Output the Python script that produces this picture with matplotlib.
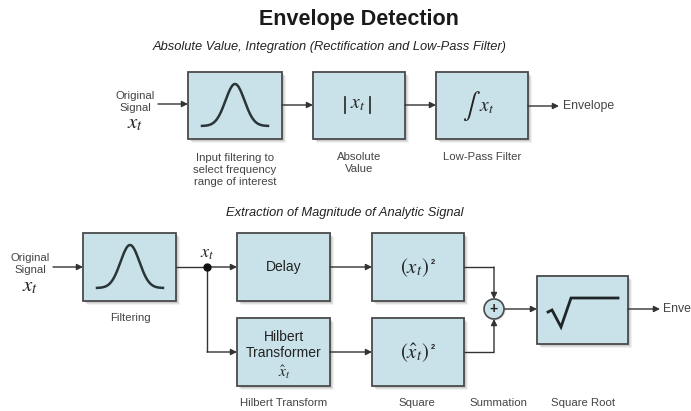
import matplotlib
matplotlib.use('Agg')
import matplotlib.pyplot as plt
from matplotlib.patches import Rectangle, Circle
import numpy as np

# ---- text content ----
title = "Envelope Detection"
subtitle_top = "Absolute Value, Integration (Rectification and Low-Pass Filter)"
subtitle_bottom = "Extraction of Magnitude of Analytic Signal"
input_label = "Original\nSignal"
signal_sym = r'$x_t$'
hat_sym = r'$\hat{x}_t$'
top_captions = ["Input filtering to\nselect frequency\nrange of interest", "Absolute\nValue", "Low-Pass Filter"]
output_label = "Envelope"
bottom_box_text = ["Delay", "Hilbert\nTransformer"]
square_text = [r'$(x_t)$', r'$(\hat{x}_t)$']
bottom_captions = ["Filtering", "Hilbert Transform", "Square", "Summation", "Square Root"]

# ---- style ----
FILL = '#c9e2ea'
EDGE = '#4a4a4a'
LINE = '#333333'
TXT = '#444444'
FONT = 'Liberation Sans'
plt.rcParams['font.family'] = [FONT, 'DejaVu Sans']

fig = plt.figure(figsize=(6.91, 4.11), dpi=100)
ax = fig.add_axes([0, 0, 1, 1])
ax.set_xlim(0, 691)
ax.set_ylim(411, 0)
ax.axis('off')


def box(x0, y0, x1, y1):
    w, h = x1 - x0, y1 - y0
    for off, a in [(4, 0.05), (3, 0.07), (2, 0.09)]:
        ax.add_patch(Rectangle((x0 + off, y0 + off), w, h, facecolor='k',
                               edgecolor='none', alpha=a, zorder=1))
    ax.add_patch(Rectangle((x0, y0), w, h, facecolor=FILL, edgecolor=EDGE,
                           lw=1.3, zorder=2))


def arrow(x0, y0, x1, y1):
    ax.annotate('', xy=(x1, y1), xytext=(x0, y0),
                arrowprops=dict(arrowstyle='-|>', color=LINE, lw=1.0,
                                mutation_scale=9, shrinkA=0, shrinkB=0),
                zorder=3)


def line(xs, ys):
    ax.plot(xs, ys, color=LINE, lw=1.0, zorder=3, solid_capstyle='butt')


def gauss(x0, x1, ytop, ybot, sigma):
    xs = np.linspace(x0, x1, 200)
    cx = (x0 + x1) / 2
    ys = ybot - (ybot - ytop) * np.exp(-0.5 * ((xs - cx) / sigma) ** 2)
    ax.plot(xs, ys, color='#2a3538', lw=1.8, zorder=4)


def math(x, y, s, size, ha='center'):
    ax.text(x, y, s, ha=ha, va='center', fontsize=size,
            math_fontfamily='stix', color='#222222', zorder=5)


# ---- titles ----
ax.text(359, 20, title, ha='center', va='center', fontsize=15.5,
        fontweight='bold', color='#1a1a1a')
ax.text(330, 47, subtitle_top, ha='center', va='center', fontsize=9.3,
        style='italic', color='#222222')
ax.text(345, 213, subtitle_bottom, ha='center', va='center', fontsize=9.3,
        style='italic', color='#222222')

# ---- top row ----
ax.text(135, 102, input_label, ha='center', va='center', fontsize=8.2,
        color=TXT, linespacing=1.2)
math(135, 123, signal_sym, 15)
box(188, 72, 282, 139)
box(313, 72, 405, 139)
box(436, 72, 528, 139)
arrow(158, 104, 188, 104)
arrow(282, 105, 313, 105)
arrow(405, 105, 436, 105)
arrow(528, 106, 559, 106)
ax.text(563, 106, output_label, ha='left', va='center', fontsize=8.8, color=TXT)
gauss(202, 268, 84, 126, 9.5)
# |x_t|
ax.plot([345, 345], [97, 113], color='#333333', lw=1.3, zorder=5)
ax.plot([370, 370], [97, 113], color='#333333', lw=1.3, zorder=5)
math(357.5, 104, signal_sym, 14)
# integral x_t
math(471, 106, r'$\int$', 19)
math(479, 107, signal_sym, 14, ha='left')
ax.text(235, 170, top_captions[0], ha='center', va='center', fontsize=8.2,
        color=TXT, linespacing=1.25)
ax.text(359, 163, top_captions[1], ha='center', va='center', fontsize=8.2,
        color=TXT, linespacing=1.25)
ax.text(482, 157, top_captions[2], ha='center', va='center', fontsize=8.2,
        color=TXT)

# ---- bottom row ----
ax.text(30, 264, input_label, ha='center', va='center', fontsize=8.2,
        color=TXT, linespacing=1.2)
math(30, 286, signal_sym, 15)
arrow(53, 267, 83, 267)
box(83, 233, 176, 301)
gauss(97, 163, 245, 288, 9.5)
ax.text(130, 318, bottom_captions[0], ha='center', va='center', fontsize=8.2,
        color=TXT)

line([176, 207], [267, 267])
ax.plot([207], [267], 'o', color='#111111', ms=5, zorder=6)
math(207, 253, signal_sym, 13)
arrow(207, 267, 237, 267)
line([207, 207], [267, 352])
arrow(207, 352, 237, 352)

box(237, 233, 330, 301)
ax.text(284, 267, bottom_box_text[0], ha='center', va='center', fontsize=10,
        color='#222222', zorder=5)
box(237, 318, 330, 386)
ax.text(284, 345, bottom_box_text[1], ha='center', va='center', fontsize=10,
        color='#222222', linespacing=1.25, zorder=5)
math(284, 372, hat_sym, 11)
ax.text(284, 403, bottom_captions[1], ha='center', va='center', fontsize=8.2,
        color=TXT)

arrow(330, 267, 372, 267)
arrow(330, 352, 372, 352)
box(372, 233, 464, 301)
box(372, 318, 464, 386)
math(415, 268, square_text[0], 15)
ax.text(433, 262, '2', ha='center', va='center', fontsize=5.5,
        fontweight='bold', color='#222222', zorder=5)
math(415, 353, square_text[1], 15)
ax.text(433, 347, '2', ha='center', va='center', fontsize=5.5,
        fontweight='bold', color='#222222', zorder=5)
ax.text(417, 403, bottom_captions[2], ha='center', va='center', fontsize=8.2,
        color=TXT)

# summation
cx, cy, r = 494, 309, 10
line([464, cx], [267, 267])
arrow(cx, 267, cx, cy - r)
line([464, cx], [352, 352])
arrow(cx, 352, cx, cy + r)
ax.add_patch(Circle((cx + 1.5, cy + 1.5), r, facecolor='k', edgecolor='none',
                    alpha=0.1, zorder=3))
ax.add_patch(Circle((cx, cy), r, facecolor=FILL, edgecolor=EDGE, lw=1.2,
                    zorder=4))
ax.text(cx, cy, '+', ha='center', va='center', fontsize=10, fontweight='bold',
        color='#222222', zorder=5)
ax.text(498, 403, bottom_captions[3], ha='center', va='center', fontsize=8.2,
        color=TXT)

arrow(cx + r, cy, 537, cy)
box(537, 276, 628, 344)
ax.plot([548, 552, 561, 571, 618], [312, 310, 327, 298, 298],
        color='#1e2628', lw=2.0, zorder=5, solid_joinstyle='miter')
ax.text(583, 403, bottom_captions[4], ha='center', va='center', fontsize=8.2,
        color=TXT)
arrow(628, 309, 660, 309)
ax.text(663, 309, output_label, ha='left', va='center', fontsize=8.8, color=TXT)

fig.savefig('out.png', dpi=100, facecolor='white')
